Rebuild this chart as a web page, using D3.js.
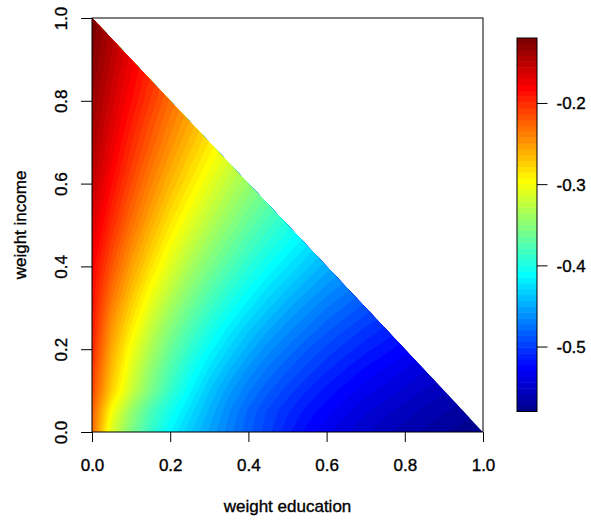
<!DOCTYPE html>
<html><head><meta charset="utf-8">
<script src="https://cdn.jsdelivr.net/npm/d3@7"></script>
<style>
body{margin:0;background:#fff}
text{font-family:"Liberation Sans",Arial,Helvetica,sans-serif;fill:#000;stroke:#000;stroke-width:0.35px}
</style></head>
<body>
<svg id="chart" width="591" height="520"></svg>
<script>
// ---- data ----
// grid of weights, step 0.05
const weightEducation = [0,0.05,0.1,0.15,0.2,0.25,0.3,0.35,0.4,0.45,0.5,0.55,0.6,0.65,0.7,0.75,0.8,0.85,0.9,0.95,1];
const weightIncome    = [0,0.05,0.1,0.15,0.2,0.25,0.3,0.35,0.4,0.45,0.5,0.55,0.6,0.65,0.7,0.75,0.8,0.85,0.9,0.95,1];
// one row per income weight (row k <-> weightIncome[k]); entries run over weightEducation while the sum <= 1
const valuesIncome000 = [-0.228,-0.312,-0.355,-0.388,-0.414,-0.435,-0.452,-0.469,-0.484,-0.498,-0.513,-0.525,-0.535,-0.543,-0.550,-0.557,-0.562,-0.567,-0.572,-0.576,-0.580];
const valuesIncome005 = [-0.222,-0.298,-0.343,-0.378,-0.403,-0.425,-0.445,-0.464,-0.481,-0.495,-0.507,-0.518,-0.527,-0.535,-0.543,-0.549,-0.555,-0.560,-0.565,-0.569];
const valuesIncome010 = [-0.212,-0.275,-0.319,-0.356,-0.387,-0.413,-0.436,-0.455,-0.471,-0.485,-0.497,-0.508,-0.518,-0.526,-0.534,-0.540,-0.546,-0.552,-0.557];
const valuesIncome015 = [-0.205,-0.266,-0.310,-0.346,-0.376,-0.402,-0.424,-0.443,-0.460,-0.474,-0.486,-0.497,-0.507,-0.516,-0.524,-0.531,-0.537,-0.543];
const valuesIncome020 = [-0.197,-0.258,-0.300,-0.334,-0.364,-0.389,-0.411,-0.430,-0.447,-0.462,-0.474,-0.486,-0.496,-0.505,-0.513,-0.520,-0.527];
const valuesIncome025 = [-0.192,-0.249,-0.288,-0.322,-0.351,-0.376,-0.398,-0.417,-0.434,-0.449,-0.462,-0.473,-0.484,-0.493,-0.502,-0.509];
const valuesIncome030 = [-0.188,-0.239,-0.276,-0.309,-0.337,-0.362,-0.384,-0.403,-0.420,-0.435,-0.449,-0.461,-0.472,-0.481,-0.490];
const valuesIncome035 = [-0.184,-0.228,-0.264,-0.296,-0.323,-0.348,-0.370,-0.389,-0.406,-0.422,-0.435,-0.448,-0.459,-0.469];
const valuesIncome040 = [-0.180,-0.218,-0.253,-0.283,-0.310,-0.335,-0.356,-0.375,-0.393,-0.408,-0.422,-0.435,-0.447];
const valuesIncome045 = [-0.172,-0.209,-0.242,-0.271,-0.298,-0.322,-0.343,-0.362,-0.380,-0.395,-0.409,-0.422];
const valuesIncome050 = [-0.165,-0.200,-0.231,-0.260,-0.286,-0.309,-0.330,-0.349,-0.367,-0.383,-0.397];
const valuesIncome055 = [-0.159,-0.192,-0.222,-0.249,-0.275,-0.297,-0.318,-0.337,-0.355,-0.370];
const valuesIncome060 = [-0.153,-0.184,-0.213,-0.240,-0.264,-0.286,-0.307,-0.326,-0.343];
const valuesIncome065 = [-0.147,-0.177,-0.205,-0.231,-0.254,-0.276,-0.296,-0.315];
const valuesIncome070 = [-0.142,-0.171,-0.198,-0.222,-0.245,-0.266,-0.286];
const valuesIncome075 = [-0.138,-0.165,-0.191,-0.215,-0.237,-0.257];
const valuesIncome080 = [-0.134,-0.160,-0.184,-0.207,-0.229];
const valuesIncome085 = [-0.130,-0.155,-0.179,-0.201];
const valuesIncome090 = [-0.126,-0.150,-0.173];
const valuesIncome095 = [-0.123,-0.146];
const valuesIncome100 = [-0.120];
const xTickValues = [0,0.2,0.4,0.6,0.8,1];
const xTickLabels = ["0.0","0.2","0.4","0.6","0.8","1.0"];
const yTickValues = [0,0.2,0.4,0.6,0.8,1];
const yTickLabels = ["0.0","0.2","0.4","0.6","0.8","1.0"];
const legendTickValues = [-0.5,-0.4,-0.3,-0.2];
const legendTickLabels = ["-0.5","-0.4","-0.3","-0.2"];
const xTitle = "weight education";
const yTitle = "weight income";
const nColors = 64;

const rows = [valuesIncome000,valuesIncome005,valuesIncome010,valuesIncome015,valuesIncome020,valuesIncome025,
  valuesIncome030,valuesIncome035,valuesIncome040,valuesIncome045,valuesIncome050,valuesIncome055,valuesIncome060,
  valuesIncome065,valuesIncome070,valuesIncome075,valuesIncome080,valuesIncome085,valuesIncome090,valuesIncome095,valuesIncome100];

// ---- jet palette (64 steps) ----
function jet(k){ // k in 0..63
  const i=k+1; let r,g,b;
  if(i<=8){r=0;g=0;b=0.5+i/16;}
  else if(i<=24){r=0;g=(i-8)/16;b=1;}
  else if(i<=40){r=(i-24)/16;g=1;b=1-(i-24)/16;}
  else if(i<=56){r=1;g=1-(i-40)/16;b=0;}
  else {r=1-(i-56)/16;g=0;b=0;}
  return d3.rgb(r*255,g*255,b*255).formatHex();
}
const palette = d3.range(nColors).map(jet);

// ---- layout ----
const svg = d3.select("#chart");
const x = d3.scaleLinear().domain([0,1]).range([92,483]);
const y = d3.scaleLinear().domain([0,1]).range([432,18]);

const allVals = rows.flat();
const [vmin,vmax] = d3.extent(allVals);
const breaks = d3.range(nColors+1).map(k=>vmin+(vmax-vmin)*k/nColors);

// full grid for contouring (cells past the diagonal are hidden by the clip; filled by linear continuation)
const n = weightEducation.length, m = weightIncome.length;
const grid = new Array(n*m);
for(let j=0;j<m;j++) for(let i=0;i<n;i++){
  grid[j*n+i] = i < rows[j].length ? rows[j][i] : NaN;
}
for(let s=n;s<=2*(n-1);s++){
  for(let j=0;j<m;j++){const i=s-j; if(i<0||i>=n) continue;
    grid[j*n+i] = grid[j*n+i-1] + grid[(j-1)*n+i] - grid[(j-1)*n+i-1];
  }
}

const step = weightEducation[1]-weightEducation[0];
const proj = d3.geoTransform({point(px,py){
  this.stream.point(x(weightEducation[0]+(px-0.5)*step), y(weightIncome[0]+(py-0.5)*step));
}});
const path = d3.geoPath(proj);

const defs = svg.append("defs");
defs.append("clipPath").attr("id","tri").append("path")
  .attr("d",`M${x(0)},${y(0)}L${x(0)},${y(1)}L${x(1)},${y(0)}Z`);

const heat = svg.append("g").attr("clip-path","url(#tri)");
heat.append("path").attr("d",`M${x(0)},${y(0)}L${x(0)},${y(1)}L${x(1)},${y(0)}Z`).attr("fill",palette[0]);
const contours = d3.contours().size([n,m]).thresholds(breaks.slice(1,nColors));
heat.selectAll("path.band").data(contours(grid)).join("path")
  .attr("class","band")
  .attr("d",path)
  .attr("fill",d=>palette[Math.min(nColors-1,Math.round((d.value-vmin)/(vmax-vmin)*nColors))]);

// frame
svg.append("rect").attr("x",x(0)).attr("y",y(1)).attr("width",x(1)-x(0)).attr("height",y(0)-y(1))
  .attr("fill","none").attr("stroke","#000").attr("stroke-width",1);

// axes
const xAxis = svg.append("g").attr("transform",`translate(0,${y(0)})`)
  .call(d3.axisBottom(x).tickValues(xTickValues).tickFormat((d,i)=>xTickLabels[i]).tickSize(10).tickSizeOuter(0));
xAxis.select(".domain").remove();
xAxis.selectAll("line").attr("stroke","#000");
xAxis.selectAll("text").attr("y",39).attr("dy",0).attr("font-size",17).attr("font-family",null).attr("fill","#000");

const yAxis = svg.append("g").attr("transform",`translate(${x(0)},0)`)
  .call(d3.axisLeft(y).tickValues(yTickValues).tickFormat((d,i)=>yTickLabels[i]).tickSize(11).tickSizeOuter(0));
yAxis.select(".domain").remove();
yAxis.selectAll("line").attr("stroke","#000");
yAxis.selectAll("text").attr("x",null).attr("dy",0).attr("font-size",17).attr("font-family",null).attr("fill","#000")
  .attr("text-anchor","middle").attr("transform","translate(-25,0) rotate(-90)");

svg.append("text").attr("x",(x(0)+x(1))/2).attr("y",512).attr("text-anchor","middle").attr("font-size",17).text(xTitle);
svg.append("text").attr("transform",`translate(25.5,${(y(0)+y(1))/2}) rotate(-90)`).attr("text-anchor","middle").attr("font-size",17).text(yTitle);

// colour bar
const ly = d3.scaleLinear().domain([vmin,vmax]).range([411.5,38]);
const lg = svg.append("g");
lg.selectAll("rect.c").data(d3.range(nColors)).join("rect").attr("class","c")
  .attr("x",517).attr("width",20)
  .attr("y",k=>ly(breaks[k+1])).attr("height",k=>ly(breaks[k])-ly(breaks[k+1])+0.5)
  .attr("fill",k=>palette[k]);
lg.append("rect").attr("x",517).attr("y",ly(vmax)).attr("width",20).attr("height",ly(vmin)-ly(vmax))
  .attr("fill","none").attr("stroke","#000").attr("stroke-width",1);
const lAxis = svg.append("g").attr("transform","translate(537,0)")
  .call(d3.axisRight(ly).tickValues(legendTickValues).tickFormat((d,i)=>legendTickLabels[i]).tickSize(10.5).tickSizeOuter(0));
lAxis.select(".domain").remove();
lAxis.selectAll("line").attr("stroke","#000");
lAxis.selectAll("text").attr("x",19.5).attr("dy",6).attr("font-size",17).attr("font-family",null).attr("fill","#000");
</script>
</body></html>
